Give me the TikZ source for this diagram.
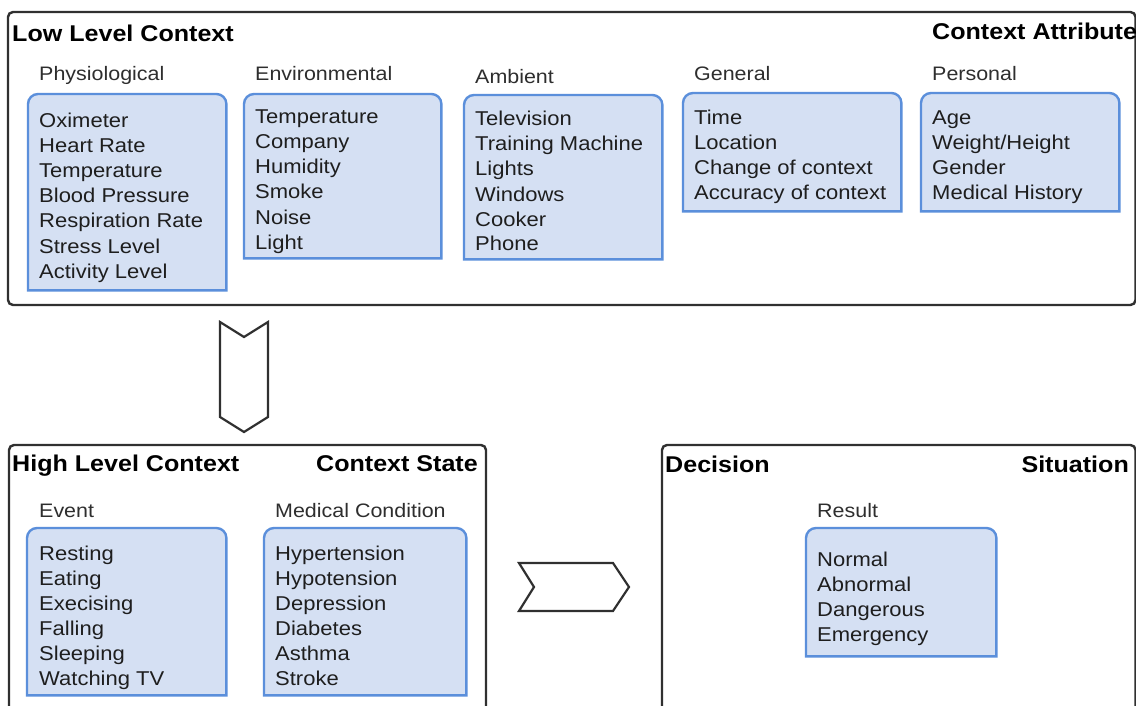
\documentclass[tikz,border=0pt]{standalone}
\usepackage{fontspec}
\setmainfont[FakeStretch=1.1]{Liberation Sans}
\definecolor{boxfill}{HTML}{D5E0F3}
\definecolor{boxline}{HTML}{5B8FDB}
\definecolor{framecol}{HTML}{303030}
\definecolor{itemcol}{HTML}{1E1E1E}
\definecolor{labelcol}{HTML}{2E2E2E}
\tikzset{
  outerbox/.style={draw=framecol, line width=2.4pt, rounded corners=5pt},
  catnode/.style={draw=none, inner sep=0pt, anchor=north west},
  catline/.style={draw=boxline, fill=boxfill, line width=2.4pt},
  itemtext/.style={inner sep=0pt, anchor=base west, text=itemcol, font=\fontsize{20}{25}\selectfont},
  labeltext/.style={inner sep=0pt, anchor=base west, text=labelcol, font=\fontsize{19.5}{24}\selectfont},
  headtext/.style={inner sep=0pt, anchor=base west, text=black, font=\fontsize{22.8}{27}\selectfont\bfseries},
  chevron/.style={draw=framecol, line width=2.2pt, line join=miter},
}
\newcommand{\catbox}[5]{%
  \node[catnode, minimum width=#4-#2, minimum height=#5-#3] (#1) at (#2,#3) {};
  \draw[catline] (#1.south west) [rounded corners=10pt] -- (#1.north west) -- (#1.north east) [sharp corners] -- (#1.south east) -- cycle;
}
\newcommand{\itemlist}[4]{%
  \foreach \t [count=\i] in {#4}
    \node[itemtext] (#1-\i) at ({#2},{#3+25*(\i-1)}) {\t};
}
\begin{document}
\begin{tikzpicture}[x=1pt, y=-1pt]
\useasboundingbox (0,0) rectangle (1136,706);
\clip (0,0) rectangle (1136,706);
\fill[white] (0,0) rectangle (1136,706);

% ---------- Low level context ----------
\draw[outerbox] (8,12) rectangle (1135.5,305);
\node[headtext] (llc) at (12,42) {Low Level Context};
\node[headtext] (attr) at (932,40) {Context Attribute};

\node[labeltext] (lphys) at (39,81) {Physiological};
\node[labeltext] (lenv) at (255,81) {Environmental};
\node[labeltext] (lamb) at (475,84) {Ambient};
\node[labeltext] (lgen) at (694,81) {General};
\node[labeltext] (lpers) at (932,81) {Personal};

\catbox{phys}{28}{94}{226}{290}
\catbox{env}{244}{94}{441}{258}
\catbox{amb}{464}{95}{662}{259}
\catbox{gen}{683}{93}{901}{211}
\catbox{pers}{921}{93}{1119}{211}

\itemlist{iphys}{39}{128}{Oximeter,Heart Rate,Temperature,Blood Pressure,Respiration Rate,Stress Level,Activity Level}
\itemlist{ienv}{255}{124}{Temperature,Company,Humidity,Smoke,Noise,Light}
\itemlist{iamb}{475}{126}{Television,Training Machine,Lights,Windows,Cooker,Phone}
\itemlist{igen}{694}{125}{Time,Location,Change of context,Accuracy of context}
\itemlist{ipers}{932}{125}{Age,Weight/Height,Gender,Medical History}

% ---------- down chevron ----------
\coordinate (cd1) at (220,322);
\coordinate (cd2) at (244,337);
\coordinate (cd3) at (268,322);
\coordinate (cd4) at (268,417);
\coordinate (cd5) at (244,432);
\coordinate (cd6) at (220,417);
\draw[chevron] (cd1) -- (cd2) -- (cd3) -- (cd4) -- (cd5) -- (cd6) -- cycle;

% ---------- High level context ----------
\draw[outerbox] (9,445) rectangle (486,730);
\node[headtext] (hlc) at (12,471) {High Level Context};
\node[headtext, anchor=base east] (state) at (478,471) {Context State};
\node[labeltext] (levent) at (39,517) {Event};
\node[labeltext] (lmed) at (275,517) {Medical Condition};
\catbox{event}{27}{528}{226}{695}
\catbox{med}{264}{528}{466}{695}
\itemlist{ievent}{39}{560}{Resting,Eating,Execising,Falling,Sleeping,Watching TV}
\itemlist{imed}{275}{560}{Hypertension,Hypotension,Depression,Diabetes,Asthma,Stroke}

% ---------- right chevron ----------
\coordinate (cr1) at (519,563);
\coordinate (cr2) at (613,563);
\coordinate (cr3) at (629,587);
\coordinate (cr4) at (613,611);
\coordinate (cr5) at (519,611);
\coordinate (cr6) at (534,587);
\draw[chevron] (cr1) -- (cr2) -- (cr3) -- (cr4) -- (cr5) -- (cr6) -- cycle;

% ---------- Decision ----------
\draw[outerbox] (662,445) rectangle (1135.5,730);
\node[headtext] (dec) at (665,472) {Decision};
\node[headtext, anchor=base east] (sit) at (1129,472) {Situation};
\node[labeltext] (lres) at (817,517) {Result};
\catbox{res}{806}{528}{996}{656}
\itemlist{ires}{817}{566}{Normal,Abnormal,Dangerous,Emergency}
\end{tikzpicture}
\end{document}
